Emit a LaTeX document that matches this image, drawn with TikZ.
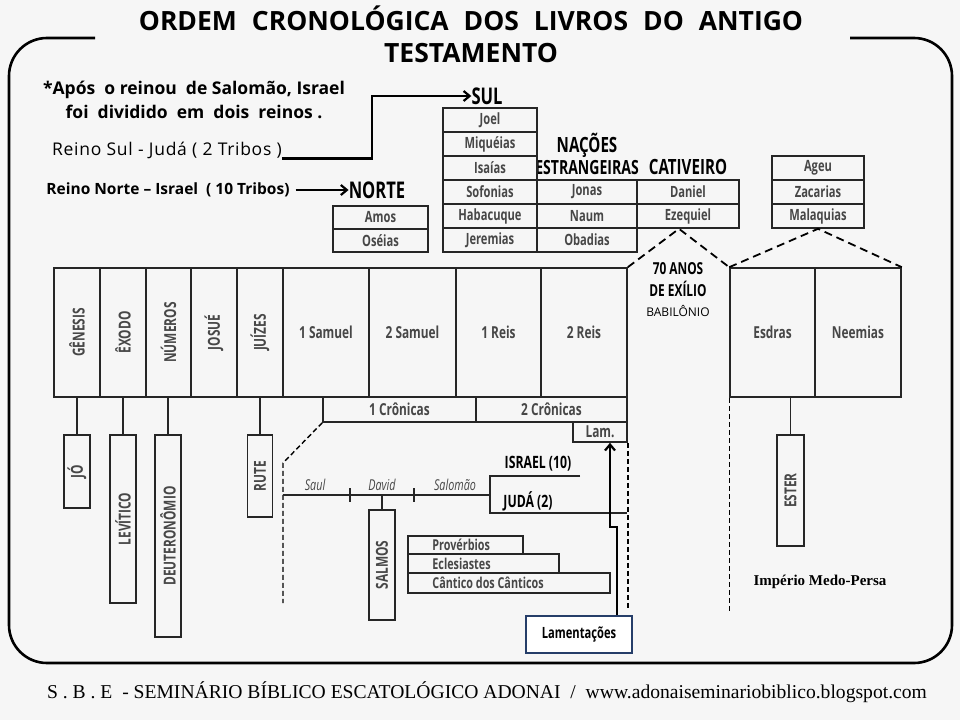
\documentclass[tikz,border=0pt]{standalone}
\usepackage{fontspec}
\usepackage{graphicx}
\setmainfont{Open Sans}
\newfontfamily\estreita{Open Sans}[FakeStretch=0.72]
\newfontfamily\serifa{Liberation Serif}
\usetikzlibrary{arrows.meta,positioning,calc}
\definecolor{fundo}{gray}{0.965}
\definecolor{cinza}{gray}{0.28}
\definecolor{azul}{RGB}{38,62,105}
\tikzset{
  livro/.style     = {rectangle, draw=black!85, line width=1.6pt, inner sep=0pt,
                      align=center, text=cinza, font=\estreita\bfseries\fontsize{16.5}{16.5}\selectfont},
  tabela/.style    = {livro, font=\estreita\bfseries\fontsize{15.5}{15.5}\selectfont},
  cabeca/.style    = {inner sep=0pt, font=\estreita\bfseries\fontsize{19.5}{19.5}\selectfont},
  nota/.style      = {inner sep=0pt, align=center, font=\bfseries\fontsize{17.5}{24}\selectfont},
  italico/.style   = {inner sep=0pt, text=cinza, font=\estreita\itshape\fontsize{15}{15}\selectfont},
  esq/.style       = {anchor=west, xshift=25pt, inner sep=0pt, text=cinza,
                      font=\estreita\bfseries\fontsize{15}{15}\selectfont},
  linha/.style     = {line width=1.6pt, draw=black!85},
  tracejado/.style = {line width=1.8pt, dash pattern=on 8pt off 5pt},
  pontilhado/.style= {line width=1.4pt, dash pattern=on 5pt off 3pt},
  seta/.style      = {-{Straight Barb[length=6pt,width=10pt]}, line width=2.2pt},
  moldura/.style   = {line width=2.6pt, rounded corners=38pt},
}

\begin{document}
\begin{tikzpicture}[x=1pt, y=-1pt]
    \fill[fundo] (0,0) rectangle (960,720);
    \useasboundingbox (0,0) rectangle (960,720);

    % --- moldura e titulo
    \draw[moldura] (95,38) -- (9,38) -- (9,663) -- (952,663) -- (952,38) -- (850,38);
    \node[font=\bfseries\fontsize{26.5}{26.5}\selectfont] (tit1) at (471,18)
      {ORDEM\hspace{15pt}CRONOLÓGICA\hspace{15pt}DOS\hspace{15pt}LIVROS\hspace{15pt}DO\hspace{15pt}ANTIGO};
    \node[font=\bfseries\fontsize{26.5}{26.5}\selectfont] (tit2) at (471,53) {TESTAMENTO};

    % --- reinos
    \node[nota] (obs) at (194,100)
      {*Após\ \ o reinou\ \ de Salomão, Israel\\foi\ \ dividido\ \ em\ \ dois\ \ reinos .};
    \node[inner sep=0pt, font=\fontsize{17.5}{17.5}\selectfont\addfontfeature{LetterSpace=4}] (rsul) at (167,150)
      {Reino Sul - Judá ( 2 Tribos )};
    \node[inner sep=0pt, font=\bfseries\fontsize{15.5}{16}\selectfont] (rnorte) at (168,190)
      {Reino Norte -- Israel\ \ ( 10 Tribos)};
    \node[cabeca, font=\estreita\bfseries\fontsize{23}{23}\selectfont] (sul) at (487,96) {SUL};
    \node[cabeca, font=\estreita\bfseries\fontsize{23}{23}\selectfont] (norte) at (377,190) {NORTE};
    \node[cabeca, font=\estreita\bfseries\fontsize{21}{21}\selectfont] (nacoes) at (587,145) {NAÇÕES};
    \node[cabeca] (estr) at (587,168) {ESTRANGEIRAS};
    \node[cabeca, font=\estreita\bfseries\fontsize{21}{21}\selectfont] (cativ) at (688,167) {CATIVEIRO};
    \draw[seta] (rsul.south east) -- ++(90,0) |- (sul.west);
    \draw[seta] ([xshift=6pt]rnorte.east) -- (norte.west);

    % --- profetas
    \node[tabela, minimum width=94pt, minimum height=24pt] (joel) at (490,120) {Joel};
    \node[tabela, minimum width=94pt, minimum height=24pt] (miq) at (490,144) {Miquéias};
    \node[tabela, minimum width=94pt, minimum height=24pt] (isa) at (490,168) {Isaías};
    \node[tabela, minimum width=94pt, minimum height=24pt] (sof) at (490,192) {Sofonias};
    \node[tabela, minimum width=94pt, minimum height=24pt] (hab) at (490,216) {Habacuque};
    \node[tabela, minimum width=94pt, minimum height=24pt] (jer) at (490,240) {Jeremias};
    \node[tabela, minimum width=100pt, minimum height=24pt] (jon) at (587,192) {Jonas};
    \node[tabela, minimum width=100pt, minimum height=24pt] (nau) at (587,216) {Naum};
    \node[tabela, minimum width=100pt, minimum height=24pt] (oba) at (587,240) {Obadias};
    \node[tabela, minimum width=102pt, minimum height=24pt] (dan) at (688,192) {Daniel};
    \node[tabela, minimum width=102pt, minimum height=24pt] (eze) at (688,216) {Ezequiel};
    \node[tabela, minimum width=95pt, minimum height=23pt] (amos) at (380.5,217.5) {Amos};
    \node[tabela, minimum width=95pt, minimum height=23pt] (ose) at (380.5,240.5) {Oséias};
    \node[tabela, minimum width=92pt, minimum height=24pt] (ageu) at (818,168) {Ageu};
    \node[tabela, minimum width=92pt, minimum height=24pt] (zac) at (818,192) {Zacarias};
    \node[tabela, minimum width=92pt, minimum height=24pt] (mal) at (818,216) {Malaquias};

    % --- linha principal
    \node[livro, minimum width=46pt, minimum height=129pt] (gen) at (77,332.5) {\rotatebox{90}{GÊNESIS}};
    \node[livro, minimum width=46pt, minimum height=129pt] (exo) at (123,332.5) {\rotatebox{90}{ÊXODO}};
    \node[livro, minimum width=45pt, minimum height=129pt] (num) at (168.5,332.5) {\rotatebox{90}{NÚMEROS}};
    \node[livro, minimum width=46pt, minimum height=129pt] (jos) at (214,332.5) {\rotatebox{90}{JOSUÉ}};
    \node[livro, minimum width=46pt, minimum height=129pt] (jui) at (260,332.5) {\rotatebox{90}{JUÍZES}};
    \node[livro, minimum width=86pt, minimum height=129pt] (sam1) at (326,332.5) {1 Samuel};
    \node[livro, minimum width=87pt, minimum height=129pt] (sam2) at (412.5,332.5) {2 Samuel};
    \node[livro, minimum width=85pt, minimum height=129pt] (rei1) at (498.5,332.5) {1 Reis};
    \node[livro, minimum width=86pt, minimum height=129pt] (rei2) at (584,332.5) {2 Reis};
    \node[livro, minimum width=85pt, minimum height=129pt] (esd) at (772.5,332.5) {Esdras};
    \node[livro, minimum width=86pt, minimum height=129pt] (nee) at (858,332.5) {Neemias};
    \node[livro, minimum width=153pt, minimum height=25pt] (cro1) at (399.5,409.5) {1 Crônicas};
    \node[livro, minimum width=151pt, minimum height=25pt] (cro2) at (551.5,409.5) {2 Crônicas};
    \node[livro, minimum width=54pt, minimum height=20pt] (lam) at (600,432) {Lam.};

    % --- exilio
    \node[cabeca, font=\estreita\bfseries\fontsize{16.5}{16.5}\selectfont] (anos) at (678,269) {70 ANOS};
    \node[cabeca, font=\estreita\bfseries\fontsize{16.5}{16.5}\selectfont] (exil) at (678,289) {DE EXÍLIO};
    \node[inner sep=0pt, font=\fontsize{12}{12}\selectfont] (babi) at (678,311) {BABILÔNIO};
    \draw[tracejado] (rei2.north east) -- ([xshift=-9pt]eze.south) -- (esd.north west);
    \draw[tracejado] (esd.north west) -- (mal.south) -- (nee.north east);
    \draw[pontilhado] (lam.south east) -- ++(0,165);
    \draw[pontilhado, line width=1pt] (esd.south west) -- ++(0,213);

    % --- livros ligados
    \node[livro, minimum width=26pt, minimum height=73pt] (jo) at (77,471.5) {\rotatebox{90}{JÓ}};
    \node[livro, minimum width=26pt, minimum height=168pt] (lev) at (123,519) {\rotatebox{90}{LEVÍTICO}};
    \node[livro, minimum width=26pt, minimum height=202pt] (deu) at (168,536) {\rotatebox{90}{DEUTERONÔMIO}};
    \node[livro, minimum width=25pt, minimum height=82pt] (rute) at (260,476) {\rotatebox{90}{RUTE}};
    \node[livro, minimum width=26pt, minimum height=110pt] (sal) at (382,565) {\rotatebox{90}{SALMOS}};
    \node[livro, minimum width=27pt, minimum height=111pt] (ester) at (790.5,490.5) {\rotatebox{90}{ESTER}};
    \draw[linha] (gen.south) -- (jo.north);
    \draw[linha] (exo.south) -- (lev.north);
    \draw[linha] (deu.north) -- (deu.north |- num.south);
    \draw[linha] (jui.south) -- (rute.north);
    \draw[linha] (ester.north) -- (ester.north |- esd.south);

    % --- reis de israel
    \coordinate (tl0) at (283,495);
    \coordinate (tl1) at (490,495);
    \draw[pontilhado] (cro1.south west) -- (283,463) -- (283,603);
    \draw[linha] (tl0) -- (tl1);
    \draw[linha] (350,488) -- (350,502);
    \draw[linha] (414,488) -- (414,502);
    \node[italico] (saul) at (315,485) {Saul};
    \node[italico] (david) at (382,485) {David};
    \node[italico] (salomao) at (455,485) {Salomão};
    \draw[linha] (580,476) -- (490,476) -- (490,513) -- (627,513);
    \node[cabeca, font=\estreita\bfseries\fontsize{17}{17}\selectfont] (isr) at (538,464) {ISRAEL (10)};
    \node[cabeca, font=\estreita\bfseries\fontsize{17}{17}\selectfont] (juda) at (528,501) {JUDÁ (2)};
    \draw[linha] (sal.north) -- (sal.north |- tl0);

    % --- poeticos
    \node[livro, minimum width=115pt, minimum height=18pt,
          label={[esq]west:Provérbios}] (prov) at (465.5,545) {};
    \node[livro, minimum width=151pt, minimum height=19pt,
          label={[esq]west:Eclesiastes}] (ecl) at (483.5,563.5) {};
    \node[livro, minimum width=202pt, minimum height=20pt,
          label={[esq]west:Cântico dos Cânticos}] (cant) at (509,583) {};

    % --- lamentacoes
    \node[rectangle, draw=azul, line width=2pt, fill=white, minimum width=106pt,
          minimum height=37pt, font=\estreita\bfseries\fontsize{15.5}{15.5}\selectfont] (lament) at (579,634.5) {Lamentações};
    \draw[seta] ([xshift=38pt]lament.north) -- ++(0,-88) -- ++(-7,0) -- ([xshift=10pt]lam.south);

    % --- rodape
    \node[inner sep=0pt, font=\bfseries\serifa\fontsize{15}{15}\selectfont] (imp) at (820,582) {Império Medo-Persa};
    \node[inner sep=0pt, font=\serifa\fontsize{19.6}{19.6}\selectfont] (rodape) at (487,692)
      {S . B . E\ \ - SEMINÁRIO BÍBLICO ESCATOLÓGICO ADONAI\ \ /\ \ www.adonaiseminariobiblico.blogspot.com};
\end{tikzpicture}
\end{document}
